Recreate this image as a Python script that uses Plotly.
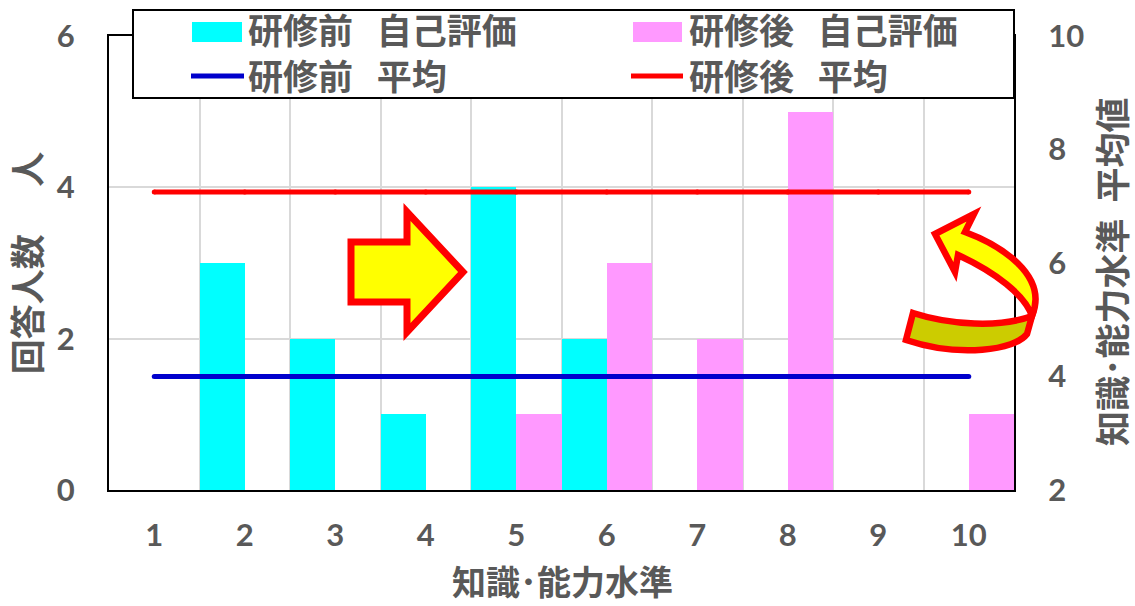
import plotly.graph_objects as go

categories = ["1", "2", "3", "4", "5", "6", "7", "8", "9", "10"]
before_counts = [0, 3, 2, 1, 4, 2, 0, 0, 0, 0]
after_counts = [0, 0, 0, 0, 1, 3, 2, 5, 0, 1]
before_mean = [4.0] * 10
after_mean = [7.25] * 10
left_ticks = [0, 2, 4, 6]
right_ticks = [2, 4, 6, 8, 10]
legend_before_bar = "研修前   自己評価"
legend_after_bar = "研修後   自己評価"
legend_before_line = "研修前   平均"
legend_after_line = "研修後   平均"
x_title = "知識･能力水準"
y_title = "回答人数      人"
y2_title = "知識･能力水準  平均値"

W, H = 1135, 606
L, R, T, B = 109, 1014, 36, 490
FONT = "Noto Sans CJK JP"
TICK = "Lato"
GREY = "#595959"


def px(x):
    return (x - L) / (R - L)


def py(y):
    return (B - y) / (B - T)


def P(pts, close=True):
    s = ""
    for i, p in enumerate(pts):
        s += ("M" if i == 0 else "L") + f"{px(p[0]):.5f},{py(p[1]):.5f} "
    return s + ("Z" if close else "")


def C(x, y):
    return f"{px(x):.5f},{py(y):.5f}"


fig = go.Figure()
fig.add_bar(x=categories, y=before_counts, name=legend_before_bar, marker_color="#00FFFF", marker_line_width=0, showlegend=False)
fig.add_bar(x=categories, y=after_counts, name=legend_after_bar, marker_color="#FF99FF", marker_line_width=0, showlegend=False)
fig.add_scatter(x=categories, y=before_mean, name=legend_before_line, mode="lines+markers", yaxis="y2",
                line=dict(color="#0000CC", width=5), marker=dict(size=5, color="#0000CC"), showlegend=False)
fig.add_scatter(x=categories, y=after_mean, name=legend_after_line, mode="lines+markers", yaxis="y2",
                line=dict(color="#FF0000", width=5), marker=dict(size=5, color="#FF0000"), showlegend=False)

shapes = []
# legend box
shapes.append(dict(type="rect", xref="paper", yref="paper", x0=px(133), x1=px(1014), y0=py(98), y1=py(10),
                   fillcolor="white", line=dict(color="#000000", width=2), layer="above"))
# legend swatches
shapes.append(dict(type="rect", xref="paper", yref="paper", x0=px(192), x1=px(242), y0=py(42), y1=py(22),
                   fillcolor="#00FFFF", line_width=0, layer="above"))
shapes.append(dict(type="rect", xref="paper", yref="paper", x0=px(633), x1=px(682), y0=py(42), y1=py(22),
                   fillcolor="#FF99FF", line_width=0, layer="above"))
shapes.append(dict(type="line", xref="paper", yref="paper", x0=px(191), x1=px(244), y0=py(76), y1=py(76),
                   line=dict(color="#0000CC", width=5), layer="above"))
shapes.append(dict(type="line", xref="paper", yref="paper", x0=px(631), x1=px(683), y0=py(76), y1=py(76),
                   line=dict(color="#FF0000", width=5), layer="above"))
# straight arrow
shapes.append(dict(type="path", xref="paper", yref="paper",
                   path=P([(351, 242), (407, 242), (407, 212), (463, 272), (407, 332), (407, 302), (351, 302)]),
                   fillcolor="#FFFF00", line=dict(color="#FF0000", width=7), layer="above"))
# curved arrow: upper part
upper = ("M" + C(935, 234) + " L" + C(974, 214) + " L" + C(965, 232)
         + " C" + C(1000, 245) + " " + C(1049, 275) + " " + C(1032, 316)
         + " C" + C(1025, 295) + " " + C(995, 272) + " " + C(958, 255)
         + " L" + C(955, 272) + " Z")
lower = ("M" + C(913, 313) + " C" + C(950, 325) + " " + C(1000, 328) + " " + C(1032, 316)
         + " L" + C(1027, 334) + " C" + C(1015, 350) + " " + C(960, 358) + " " + C(906, 340) + " Z")
shapes.append(dict(type="path", xref="paper", yref="paper", path=upper,
                   fillcolor="#FFFF00", line=dict(color="#FF0000", width=6.5), layer="above"))
shapes.append(dict(type="path", xref="paper", yref="paper", path=lower,
                   fillcolor="#CCCC00", line=dict(color="#FF0000", width=6.5), layer="above"))

tick_font = dict(family=TICK, size=31, color=GREY, weight="bold")
title_font = dict(family=FONT, size=35, color=GREY, weight="bold")
x_title_font = dict(family=FONT, size=34, color=GREY, weight="bold")

annotations = []
for text, x, y in [(legend_before_bar, 246, 28), (legend_after_bar, 687, 28),
                   (legend_before_line, 246, 74), (legend_after_line, 687, 74)]:
    annotations.append(dict(text=text, xref="paper", yref="paper", x=px(x), y=py(y), xanchor="left", yanchor="middle",
                            showarrow=False, font=title_font))
annotations.append(dict(text=x_title, xref="paper", yref="paper", x=px(562), y=py(580), xanchor="center",
                        yanchor="middle", showarrow=False, font=x_title_font))
annotations.append(dict(text=y2_title, xref="paper", yref="paper", x=px(1110), y=py(272), xanchor="center",
                        yanchor="middle", showarrow=False, textangle=-90, font=title_font))

fig.update_layout(
    width=W, height=H, autosize=False,
    margin=dict(l=L, r=W - R, t=T, b=H - B, pad=0),
    paper_bgcolor="white", plot_bgcolor="white",
    barmode="group", bargap=0, bargroupgap=0,
    showlegend=False,
    font=dict(family=FONT, color=GREY),
    shapes=shapes, annotations=annotations,
    xaxis=dict(type="category", categoryorder="array", categoryarray=categories, tickson="boundaries",
               range=[-0.5, 9.5],
               showgrid=True, gridcolor="#D9D9D9", gridwidth=2, showline=True, linecolor="#000000", linewidth=2,
               mirror=True, ticks="", tickfont=tick_font, ticklabelstandoff=17, automargin=False),
    yaxis=dict(range=[0, 6], tickvals=left_ticks, showgrid=True, gridcolor="#D9D9D9", gridwidth=2,
               showline=True, linecolor="#000000", linewidth=2, ticks="", zeroline=False, automargin=False,
               tickfont=tick_font, ticklabelstandoff=26,
               title=dict(text=y_title, font=title_font)),
    yaxis2=dict(range=[2, 10], tickvals=right_ticks, overlaying="y", side="right", showgrid=False,
                showline=True, linecolor="#000000", linewidth=2, ticks="", zeroline=False, automargin=False,
                tickfont=tick_font, ticklabelstandoff=26),
)
fig.write_html("out.html", config={"displayModeBar": False}, post_script="document.body.style.margin='0';")
